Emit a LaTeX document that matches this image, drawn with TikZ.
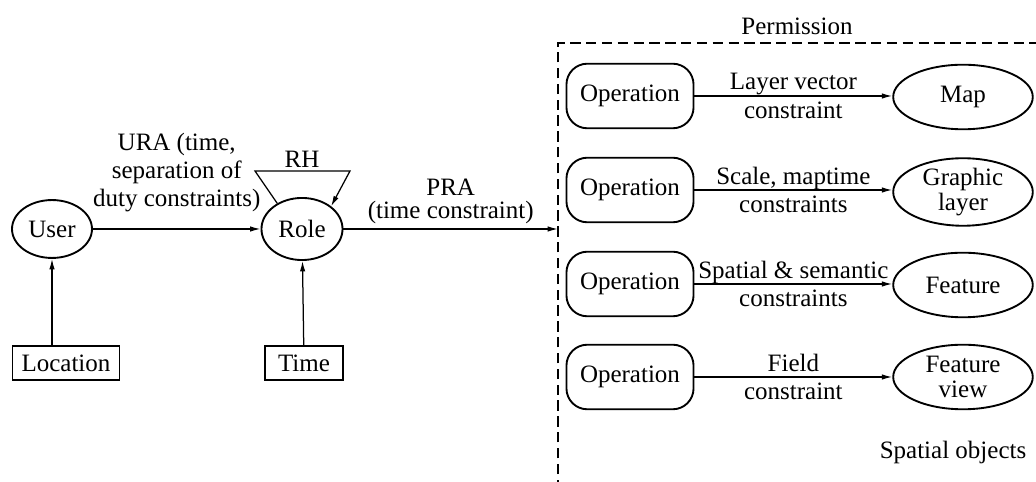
\documentclass[tikz,border=0pt]{standalone}
\usepackage{fontspec}
\setmainfont{Liberation Serif}
\usetikzlibrary{arrows.meta,positioning,shapes.geometric}
\tikzset{
  txt/.style={font=\rmfamily\fontsize{12}{13.5}\selectfont},
  ell/.style={draw=black, ellipse, line width=0.9pt, inner sep=0pt, align=center, font=\rmfamily\fontsize{12}{12}\selectfont},
  objell/.style={ell, minimum width=67pt, minimum height=31pt},
  opbox/.style={txt, draw=black, rounded corners=10pt, line width=0.9pt, minimum width=61pt, minimum height=31pt, inner sep=0pt},
  inbox/.style={txt, draw=black, line width=0.9pt, minimum height=16.3pt, inner sep=0pt},
  lbl/.style={txt, align=center, inner sep=0pt},
  arrow/.style={-{Latex[length=5pt,width=2.6pt]}, line width=0.6pt},
  frame/.style={dashed, dash pattern=on 5pt off 2.6pt, line width=0.9pt}
}

\begin{document}
\begin{tikzpicture}[x=0.48pt, y=-0.48pt]
\useasboundingbox (0,0) rectangle (1036,482);

% user / role side
\node[ell, minimum width=38.4pt, minimum height=27.8pt] (user) at (52,229) {User};
\node[ell, minimum width=38.9pt, minimum height=29.8pt] (role) at (302,229) {Role};
\node[inbox, minimum width=51.4pt] (loc) at (66,363) {Location};
\node[inbox, minimum width=37.4pt] (time) at (304,363) {Time};

\draw[arrow] (user) -- node[lbl, above=8pt] {URA (time,\\separation of\\duty constraints)} (role);
\draw[arrow] (user.south |- loc.north) -- (user.south);
\draw[arrow] (time) -- (role);

% role hierarchy loop
\coordinate (rhl) at (255,171);
\coordinate (rhr) at (350,171);
\node[lbl] (rh) at (302,159) {RH};
\draw[arrow] (role.134) -- (rhl) -- (rhr) -- (role.38);

% permission frame
\coordinate (fbl) at (558,490);
\coordinate (ftl) at (558,43);
\coordinate (ftr) at (1040,43);
\draw[frame] (fbl) -- (ftl) -- (ftr);
\node[lbl] (perm) at (797,26) {Permission};
\node[lbl] (spobj) at (953,452) {Spatial objects};

\draw[arrow] (role) -- node[lbl, above=2pt, font=\rmfamily\fontsize{12}{11}\selectfont] {PRA\\(time constraint)} (role -| ftl);

% operations on spatial objects
\node[opbox] (op1) at (630,96) {Operation};
\node[opbox] (op2) at (630,190) {Operation};
\node[opbox] (op3) at (630,284) {Operation};
\node[opbox] (op4) at (630,377) {Operation};

\node[objell] (map) at (963,97) {Map};
\node[objell] (glayer) at (963,192) {Graphic\\layer};
\node[objell] (feat) at (963,285) {Feature};
\node[objell] (fview) at (963,377) {Feature\\view};

\draw[arrow] (op1) -- node[lbl] {Layer vector\\constraint} (op1 -| map.west);
\draw[arrow] (op2) -- node[lbl] {Scale, maptime\\constraints} (op2 -| glayer.west);
\draw[arrow] (op3) -- node[lbl] {Spatial \& semantic\\constraints} (op3 -| feat.west);
\draw[arrow] (op4) -- node[lbl] {Field\\constraint} (op4 -| fview.west);
\end{tikzpicture}
\end{document}
